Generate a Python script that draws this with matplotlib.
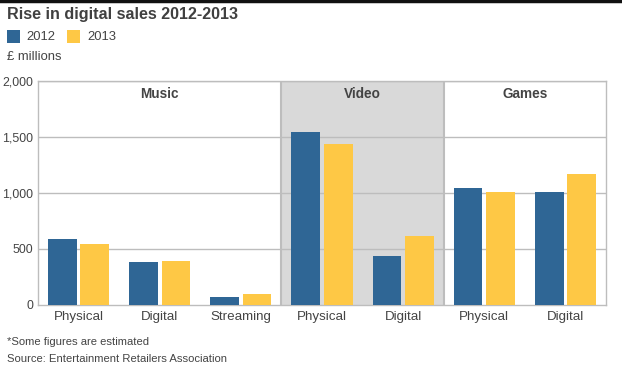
import matplotlib.pyplot as plt
from matplotlib.patches import Rectangle

plt.rcParams['font.family'] = ['Liberation Sans', 'DejaVu Sans']

# data
sections = ['Music', 'Video', 'Games']
section_sizes = [3, 2, 2]
categories = ['Physical', 'Digital', 'Streaming', 'Physical', 'Digital', 'Physical', 'Digital']
sales_2012 = [587, 382, 74, 1544, 441, 1046, 1010]
sales_2013 = [545, 393, 98, 1440, 620, 1010, 1174]
yticks = [0, 500, 1000, 1500, 2000]
ytick_labels = ['0', '500', '1,000', '1,500', '2,000']

blue = '#2f6695'
yellow = '#fec845'
text_col = '#444444'
grid_col = '#bdbdbd'

fig = plt.figure(figsize=(6.22, 3.68), dpi=100)
ax = fig.add_axes([0.0611, 0.1712, 0.9132, 0.6087])

x = list(range(len(categories)))
w = 0.355
ax.bar([i - 0.2 for i in x], sales_2012, width=w, color=blue, zorder=3, label='2012')
ax.bar([i + 0.2 for i in x], sales_2013, width=w, color=yellow, zorder=3, label='2013')

ax.set_xlim(-0.5, len(categories) - 0.5)
ax.set_ylim(0, 2000)

# shaded video section + dividers + section titles
start = -0.5
for k, (name, size) in enumerate(zip(sections, section_sizes)):
    end = start + size
    if name == 'Video':
        ax.add_patch(Rectangle((start, 0), size, 2000, facecolor='#d9d9d9',
                               edgecolor='none', zorder=0))
    if k > 0:
        ax.axvline(start, color=grid_col, linewidth=1.5, zorder=2)
    ax.text((start + end) / 2, 1880, name, ha='center', va='center',
            fontsize=9.8, fontweight='bold', color=text_col, zorder=4)
    start = end

for y in yticks[1:]:
    ax.axhline(y, color=grid_col, linewidth=1, zorder=1)

ax.set_yticks(yticks)
ax.set_yticklabels(ytick_labels)
ax.set_xticks(x)
ax.set_xticklabels(categories)
ax.tick_params(length=0, colors=text_col)
ax.tick_params(axis='x', pad=4, labelsize=9.6)
ax.tick_params(axis='y', pad=3.5, labelsize=8.9)
for s in ax.spines.values():
    s.set_color(grid_col)
    s.set_linewidth(1)

# header
fig.add_artist(plt.Line2D([0, 1], [0.997, 0.997], color='#111111', linewidth=2.5))
fig.text(7 / 622, 1 - 15 / 368, 'Rise in digital sales 2012-2013', fontsize=11.6,
         fontweight='bold', color='#404040', va='center', ha='left')
fig.patches.append(Rectangle((7 / 622, 1 - 43 / 368), 13 / 622, 13 / 368,
                             facecolor=blue, transform=fig.transFigure, figure=fig))
fig.text(26 / 622, 1 - 37 / 368, '2012', fontsize=9.4, color=text_col, va='center')
fig.patches.append(Rectangle((67 / 622, 1 - 43 / 368), 13 / 622, 13 / 368,
                             facecolor=yellow, transform=fig.transFigure, figure=fig))
fig.text(87 / 622, 1 - 37 / 368, '2013', fontsize=9.4, color=text_col, va='center')
fig.text(7 / 622, 1 - 57 / 368, '£ millions', fontsize=9.4, color=text_col, va='center')

fig.text(7 / 622, 1 - 342 / 368, '*Some figures are estimated', fontsize=8.1,
         color=text_col, va='center')
fig.text(7 / 622, 1 - 359 / 368, 'Source: Entertainment Retailers Association',
         fontsize=8.1, color=text_col, va='center')

fig.savefig('out.png', dpi=100)
